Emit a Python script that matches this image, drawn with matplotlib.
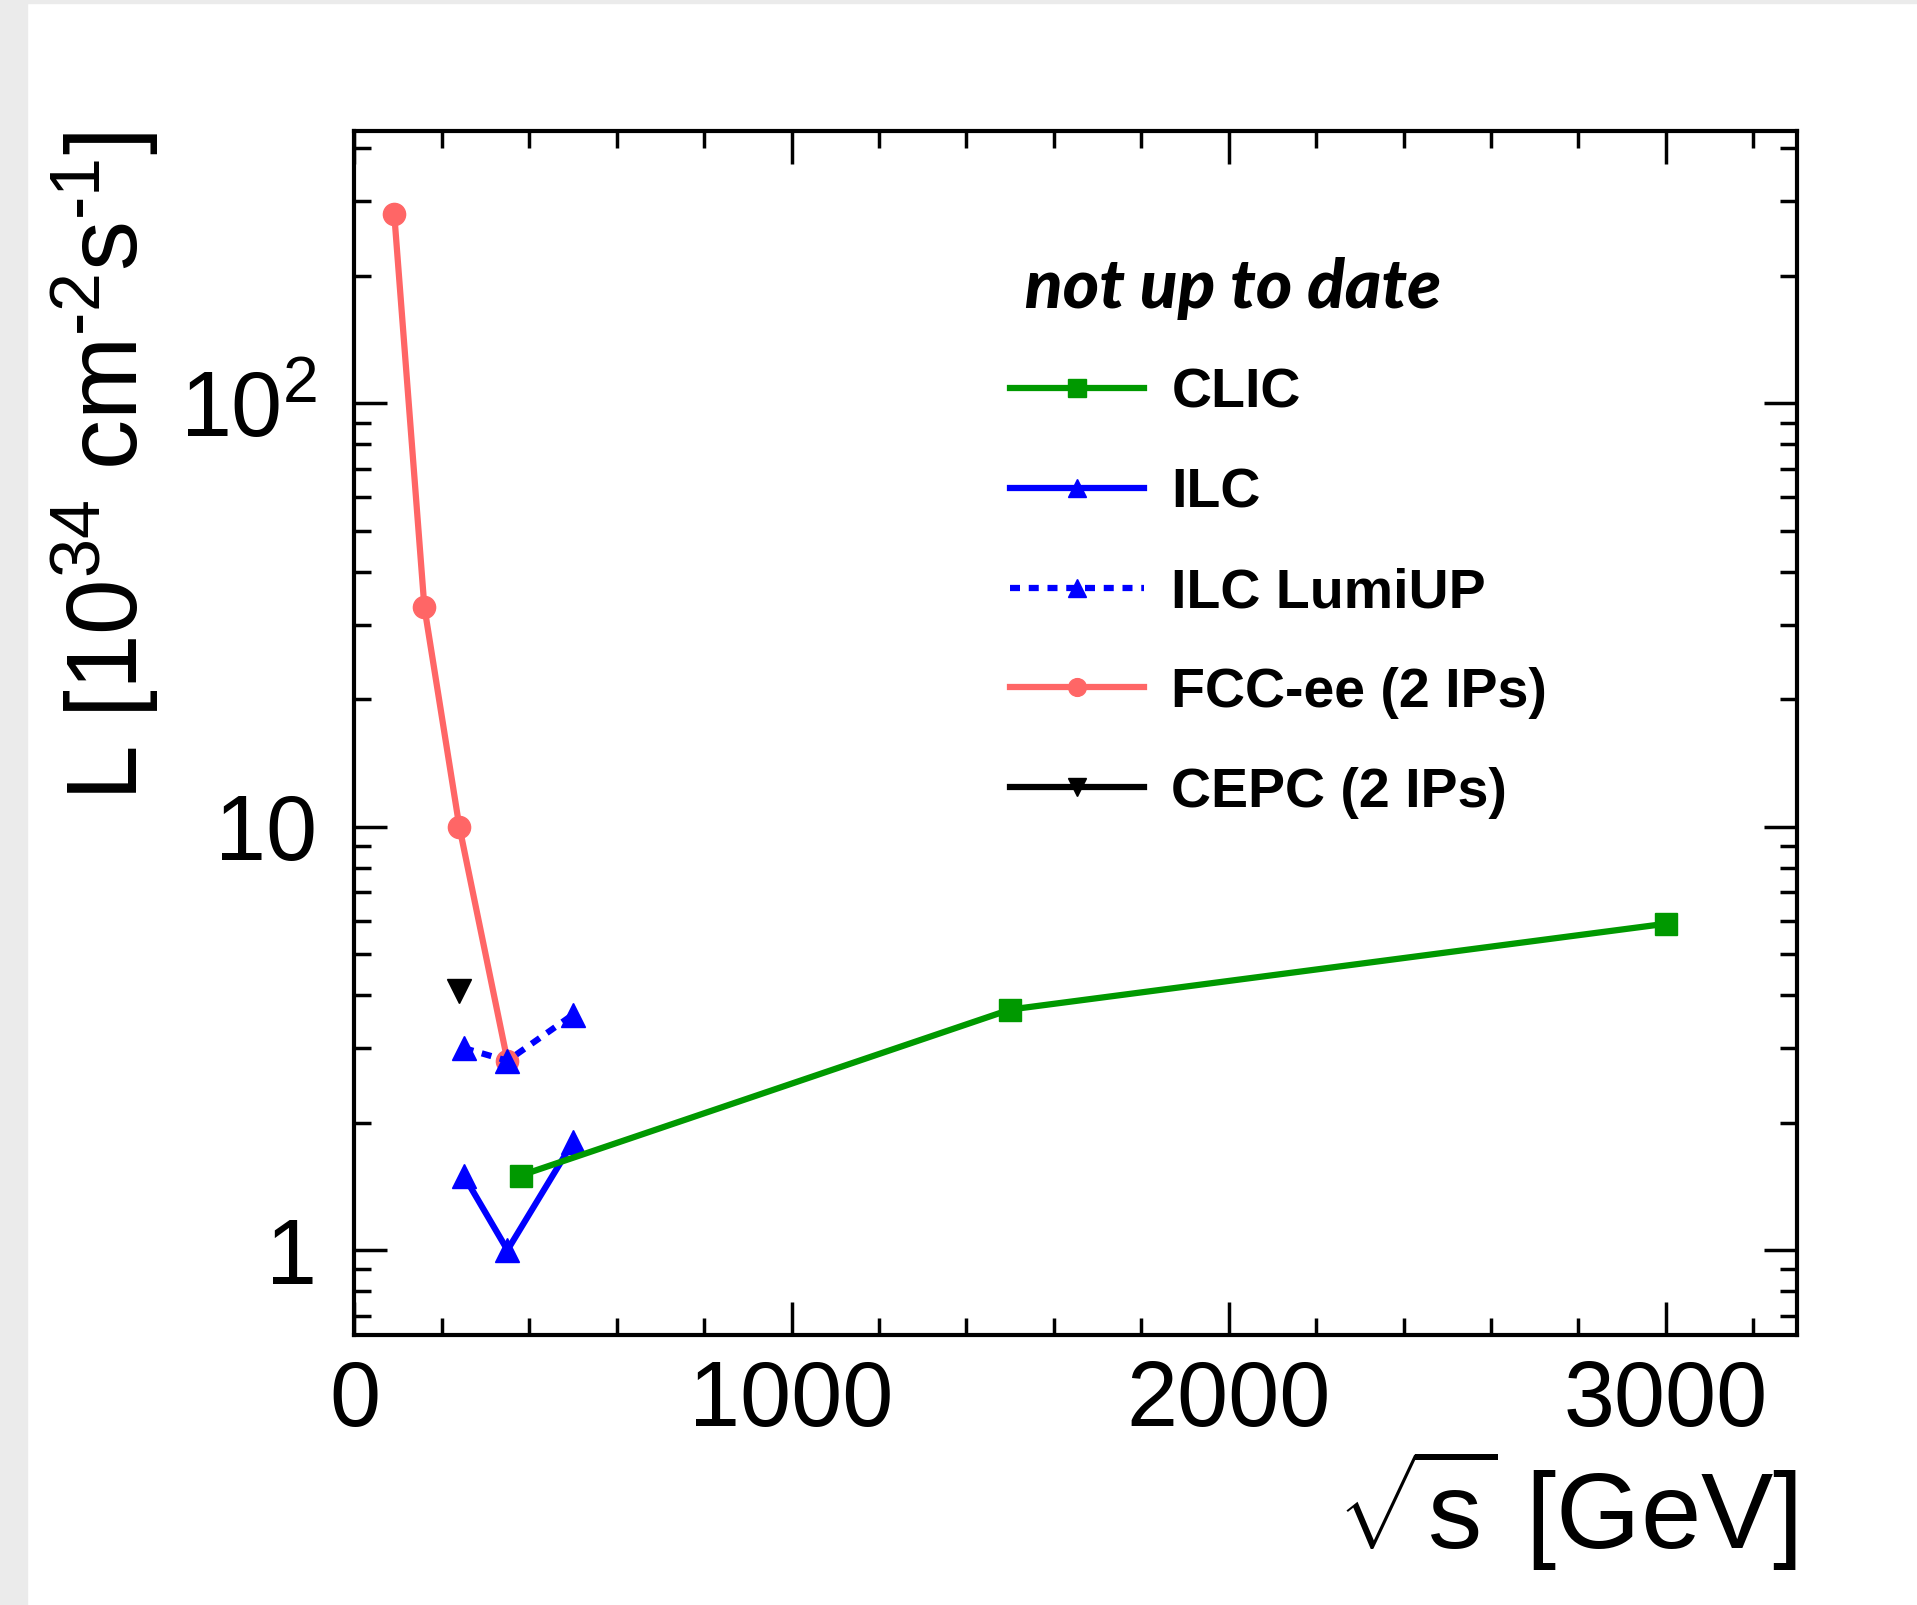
import matplotlib
matplotlib.use('Agg')
import matplotlib.pyplot as plt
from matplotlib.patches import Rectangle
from matplotlib.ticker import MultipleLocator, LogLocator, NullFormatter

plt.rcParams['font.family'] = ['Liberation Sans', 'DejaVu Sans']
plt.rcParams['mathtext.fontset'] = 'custom'
plt.rcParams['mathtext.rm'] = 'Liberation Sans'
plt.rcParams['mathtext.it'] = 'Liberation Sans:italic'
plt.rcParams['mathtext.bf'] = 'Liberation Sans:bold'

# luminosity vs centre-of-mass energy
clic_x = [380, 1500, 3000]
clic_y = [1.5, 3.7, 5.9]
ilc_x = [250, 350, 500]
ilc_y = [1.5, 1.0, 1.8]
lumiup_x = [250, 350, 500]
lumiup_y = [3.0, 2.8, 3.6]
fcc_x = [91, 160, 240, 350]
fcc_y = [280, 33, 10, 2.8]
cepc_x = [240]
cepc_y = [4.1]

labels = ['CLIC', 'ILC', 'ILC LumiUP', 'FCC-ee (2 IPs)', 'CEPC (2 IPs)']

fig = plt.figure(figsize=(19.17, 16.05), dpi=100)
ax = fig.add_axes([0.1849, 0.1682, 0.7525, 0.7502])

# grey strips at the left and top edge of the screenshot
fig.patches.append(Rectangle((0, 0), 27 / 1917, 1, transform=fig.transFigure,
                             color='#ebebeb', zorder=-5))
fig.patches.append(Rectangle((0, 1 - 3 / 1605), 1, 3 / 1605, transform=fig.transFigure,
                             color='#ebebeb', zorder=-5))

lw = 4.5
fcc, = ax.plot(fcc_x, fcc_y, color='#ff6666', lw=lw, marker='o', ms=16, zorder=2)
ilc, = ax.plot(ilc_x, ilc_y, color='#0000ff', lw=lw, marker='^', ms=17, zorder=3)
lumi, = ax.plot(lumiup_x, lumiup_y, color='#0000ff', lw=lw, ls=(0, (1.6, 1.4)),
                marker='^', ms=17, zorder=3)
clic, = ax.plot(clic_x, clic_y, color='#009900', lw=lw, marker='s', ms=16, zorder=4)
cepc, = ax.plot(cepc_x, cepc_y, color='black', lw=lw, marker='v', ms=17, zorder=4)

ax.set_xlim(0, 3300)
ax.set_yscale('log')
ax.set_ylim(0.63, 440)

ax.xaxis.set_major_locator(MultipleLocator(1000))
ax.xaxis.set_minor_locator(MultipleLocator(200))
ax.set_yticks([1, 10, 100], labels=['1', '10', '10$^{2}$'])
ax.yaxis.set_minor_locator(LogLocator(base=10, subs=[2, 3, 4, 5, 6, 7, 8, 9]))
ax.yaxis.set_minor_formatter(NullFormatter())

ax.tick_params(which='both', direction='in', top=True, right=True, width=2.5)
ax.tick_params(which='major', length=24, labelsize=66)
ax.tick_params(axis='x', which='major', pad=17)
ax.tick_params(axis='y', which='major', pad=27)
ax.tick_params(which='minor', length=12)
for sp in ax.spines.values():
    sp.set_linewidth(3.0)

fig.text(0.9374, 0.0349, r'$\sqrt{\mathrm{s}}$ [GeV]', ha='right', va='baseline', fontsize=78)
fig.text(0.0553, 0.918, r'L [10$^{34}$ cm$^{\text{-}2}$s$^{\text{-}1}$]', rotation=90,
         ha='center', va='top', fontsize=72)

leg = ax.legend([clic, ilc, lumi, fcc, cepc], labels, loc='upper left',
                bbox_to_anchor=(0.527, 0.840), bbox_transform=fig.transFigure,
                frameon=False, prop=dict(weight='bold', size=40),
                title=' not up to date',
                title_fontproperties=dict(family='Lato', weight='black', style='italic', size=50),
                handlelength=2.4, handletextpad=0.5, labelspacing=0.86,
                borderaxespad=0, borderpad=0, alignment='left', markerscale=0.8)

fig.savefig('out.png', dpi=100)
